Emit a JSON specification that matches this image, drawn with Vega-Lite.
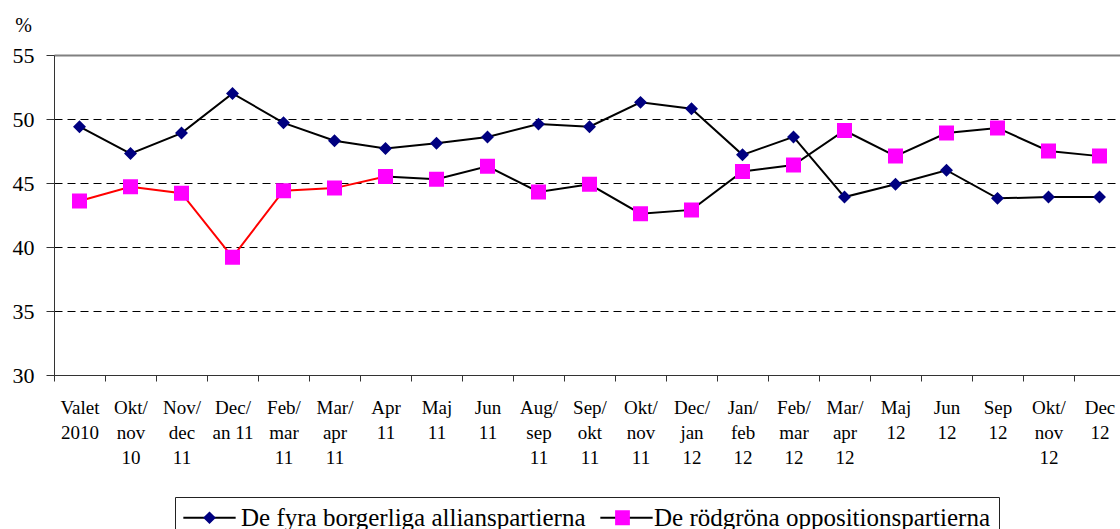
{
  "$schema": "https://vega.github.io/schema/vega-lite/v6.json",
  "width": 1066,
  "height": 320,
  "autosize": "none",
  "padding": {"left": 54, "top": 55, "right": 0, "bottom": 154},
  "background": "white",
  "config": {
    "view": {"stroke": null},
    "font": "Liberation Serif",
    "axis": {"labelFont": "Liberation Serif", "titleFont": "Liberation Serif"},
    "legend": {"labelFont": "Liberation Serif", "titleFont": "Liberation Serif"}
  },
  "data": {
    "values": [
      {"period": "Valet|2010", "series": "De fyra borgerliga allianspartierna", "value": 49.4},
      {"period": "Okt/|nov|10", "series": "De fyra borgerliga allianspartierna", "value": 47.3},
      {"period": "Nov/|dec|11", "series": "De fyra borgerliga allianspartierna", "value": 48.9},
      {"period": "Dec/|an 11", "series": "De fyra borgerliga allianspartierna", "value": 52.0},
      {"period": "Feb/|mar|11", "series": "De fyra borgerliga allianspartierna", "value": 49.7},
      {"period": "Mar/|apr|11", "series": "De fyra borgerliga allianspartierna", "value": 48.3},
      {"period": "Apr|11", "series": "De fyra borgerliga allianspartierna", "value": 47.7},
      {"period": "Maj|11", "series": "De fyra borgerliga allianspartierna", "value": 48.1},
      {"period": "Jun|11", "series": "De fyra borgerliga allianspartierna", "value": 48.6},
      {"period": "Aug/|sep|11", "series": "De fyra borgerliga allianspartierna", "value": 49.6},
      {"period": "Sep/|okt|11", "series": "De fyra borgerliga allianspartierna", "value": 49.4},
      {"period": "Okt/|nov|11", "series": "De fyra borgerliga allianspartierna", "value": 51.3},
      {"period": "Dec/|jan|12", "series": "De fyra borgerliga allianspartierna", "value": 50.8},
      {"period": "Jan/|feb|12", "series": "De fyra borgerliga allianspartierna", "value": 47.2},
      {"period": "Feb/|mar|12", "series": "De fyra borgerliga allianspartierna", "value": 48.6},
      {"period": "Mar/|apr|12", "series": "De fyra borgerliga allianspartierna", "value": 43.9},
      {"period": "Maj|12", "series": "De fyra borgerliga allianspartierna", "value": 44.9},
      {"period": "Jun|12", "series": "De fyra borgerliga allianspartierna", "value": 46.0},
      {"period": "Sep|12", "series": "De fyra borgerliga allianspartierna", "value": 43.8},
      {"period": "Okt/|nov|12", "series": "De fyra borgerliga allianspartierna", "value": 43.9},
      {"period": "Dec|12", "series": "De fyra borgerliga allianspartierna", "value": 43.9},
      {"period": "Valet|2010", "series": "De rödgröna oppositionspartierna", "value": 43.6},
      {"period": "Okt/|nov|10", "series": "De rödgröna oppositionspartierna", "value": 44.7},
      {"period": "Nov/|dec|11", "series": "De rödgröna oppositionspartierna", "value": 44.2},
      {"period": "Dec/|an 11", "series": "De rödgröna oppositionspartierna", "value": 39.2},
      {"period": "Feb/|mar|11", "series": "De rödgröna oppositionspartierna", "value": 44.4},
      {"period": "Mar/|apr|11", "series": "De rödgröna oppositionspartierna", "value": 44.6},
      {"period": "Apr|11", "series": "De rödgröna oppositionspartierna", "value": 45.5},
      {"period": "Maj|11", "series": "De rödgröna oppositionspartierna", "value": 45.3},
      {"period": "Jun|11", "series": "De rödgröna oppositionspartierna", "value": 46.3},
      {"period": "Aug/|sep|11", "series": "De rödgröna oppositionspartierna", "value": 44.3},
      {"period": "Sep/|okt|11", "series": "De rödgröna oppositionspartierna", "value": 44.9},
      {"period": "Okt/|nov|11", "series": "De rödgröna oppositionspartierna", "value": 42.6},
      {"period": "Dec/|jan|12", "series": "De rödgröna oppositionspartierna", "value": 42.9},
      {"period": "Jan/|feb|12", "series": "De rödgröna oppositionspartierna", "value": 45.9},
      {"period": "Feb/|mar|12", "series": "De rödgröna oppositionspartierna", "value": 46.4},
      {"period": "Mar/|apr|12", "series": "De rödgröna oppositionspartierna", "value": 49.1},
      {"period": "Maj|12", "series": "De rödgröna oppositionspartierna", "value": 47.1},
      {"period": "Jun|12", "series": "De rödgröna oppositionspartierna", "value": 48.9},
      {"period": "Sep|12", "series": "De rödgröna oppositionspartierna", "value": 49.3},
      {"period": "Okt/|nov|12", "series": "De rödgröna oppositionspartierna", "value": 47.5},
      {"period": "Dec|12", "series": "De rödgröna oppositionspartierna", "value": 47.1}
    ]
  },
  "encoding": {
    "x": {
      "field": "period",
      "type": "nominal",
      "sort": null,
      "scale": {"type": "band", "paddingInner": 0, "paddingOuter": 0, "range": [0, 1071]},
      "axis": {
        "title": null,
        "labelAngle": 0,
        "tickBand": "extent",
        "tickSize": 6,
        "tickColor": "#333333",
        "domainColor": "#333333",
        "labelFont": "Liberation Serif",
        "labelFontSize": 19,
        "labelColor": "black",
        "labelLineHeight": 25,
        "labelPadding": 17,
        "labelBaseline": "top",
        "labelOverlap": false,
        "labelLimit": 0,
        "labelExpr": "isValid(datum.value) ? split(datum.value, '|') : ''",
        "grid": false
      }
    },
    "y": {
      "field": "value",
      "type": "quantitative",
      "scale": {"domain": [30, 55], "nice": false, "zero": false},
      "axis": {
        "values": [30, 35, 40, 45, 50, 55],
        "title": "%",
        "titleAngle": 0,
        "titleX": -31,
        "titleY": -24,
        "titleAlign": "center",
        "titleBaseline": "alphabetic",
        "titleFont": "Liberation Serif",
        "titleFontSize": 20,
        "titleFontWeight": "normal",
        "titleColor": "black",
        "labelFont": "Liberation Serif",
        "labelFontSize": 22,
        "labelColor": "black",
        "labelPadding": 12,
        "tickSize": 8,
        "tickColor": "#333333",
        "domainColor": "#333333",
        "grid": true,
        "gridColor": {"condition": {"test": "datum.value == 55", "value": "#808080"}, "value": "black"},
        "gridDash": {"condition": {"test": "datum.value == 55", "value": []}, "value": [8, 5]},
        "gridWidth": {"condition": {"test": "datum.value == 55", "value": 2}, "value": 1}
      }
    }
  },
  "layer": [
    {
      "transform": [
        {"filter": "datum.series == 'De fyra borgerliga allianspartierna' || indexof(['Valet|2010','Okt/|nov|10','Nov/|dec|11','Dec/|an 11','Feb/|mar|11','Mar/|apr|11'], datum.period) < 0"}
      ],
      "mark": {"type": "line", "strokeWidth": 2},
      "encoding": {
        "stroke": {
          "field": "series",
          "type": "nominal",
          "scale": {"domain": ["De fyra borgerliga allianspartierna", "De rödgröna oppositionspartierna"], "range": ["black", "black"]},
          "legend": {
            "title": null,
            "orient": "none",
            "legendX": 121,
            "legendY": 442,
            "direction": "horizontal",
            "columns": 2,
            "columnPadding": 10,
            "padding": 8,
            "symbolType": "M-3.9,0H3.9",
            "symbolSize": 180,
            "symbolStrokeWidth": 2,
            "symbolOffset": 14,
            "labelOffset": 19,
            "labelFont": "Liberation Serif",
            "labelFontSize": 25,
            "labelColor": "transparent",
            "labelLimit": 600,
            "zindex": 0
          }
        }
      }
    },
    {
      "transform": [
        {"filter": "datum.series == 'De rödgröna oppositionspartierna' && indexof(['Valet|2010','Okt/|nov|10','Nov/|dec|11','Dec/|an 11','Feb/|mar|11','Mar/|apr|11','Apr|11'], datum.period) >= 0"}
      ],
      "mark": {"type": "line", "strokeWidth": 2, "color": "#FF0000"},
      "encoding": {}
    },
    {
      "mark": {"type": "point", "filled": true, "opacity": 1, "size": 186, "strokeWidth": 0},
      "encoding": {
        "fill": {
          "field": "series",
          "type": "nominal",
          "scale": {"range": ["#000080", "#FF00FF"]},
          "legend": {
            "title": null,
            "orient": "none",
            "legendX": 121,
            "legendY": 442,
            "direction": "horizontal",
            "columns": 2,
            "columnPadding": 10,
            "padding": 8,
            "symbolSize": 180,
            "symbolStrokeWidth": 0,
            "symbolOpacity": 1,
            "symbolOffset": 14,
            "labelOffset": 19,
            "labelFont": "Liberation Serif",
            "labelFontSize": 25,
            "labelColor": "black",
            "labelLimit": 600,
            "strokeColor": "#222222",
            "zindex": 1
          }
        },
        "shape": {
          "field": "series",
          "type": "nominal",
          "scale": {"range": ["M-3.9,0L-3.9,0M3.9,0L3.9,0M0,-0.95L0.95,0L0,0.95L-0.95,0Z", "M-3.9,0L-3.9,0M3.9,0L3.9,0M-1.1,-1.1H1.1V1.1H-1.1Z"]}
        }
      }
    }
  ]
}
